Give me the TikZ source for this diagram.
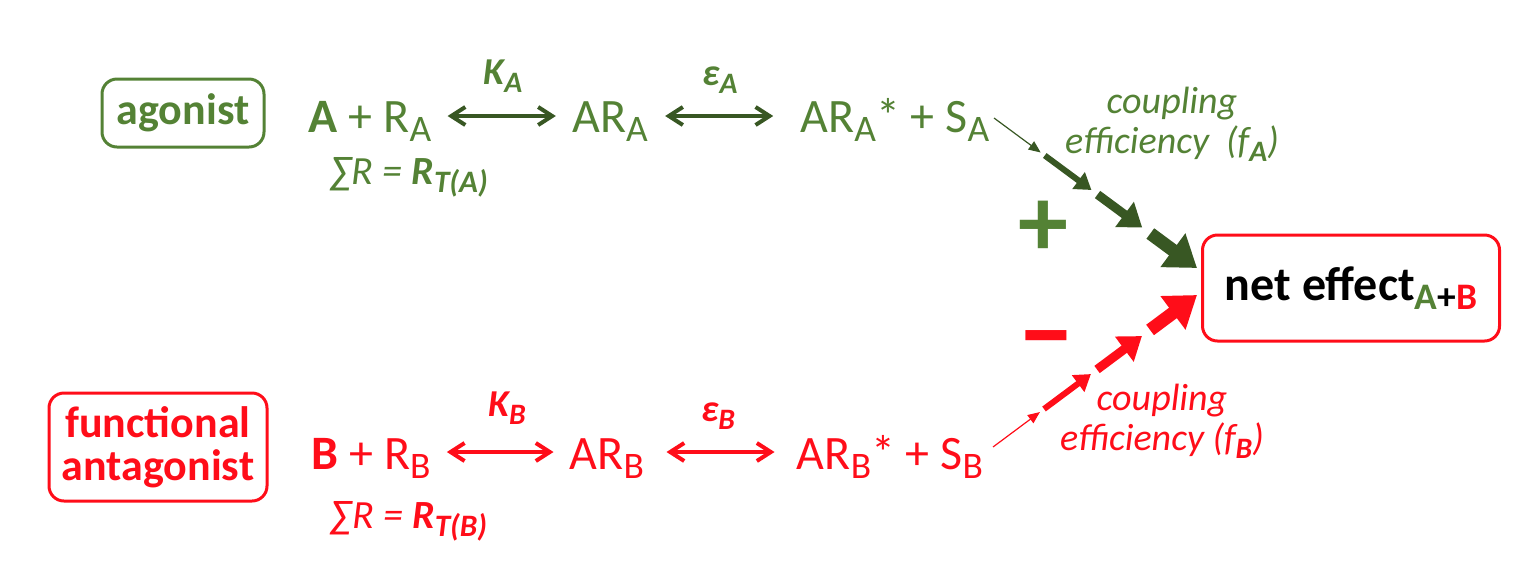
\documentclass[tikz,border=0pt]{standalone}
\usepackage{fontspec}
\setmainfont{Carlito}
\usetikzlibrary{arrows.meta,calc}

\definecolor{agreen}{RGB}{84,130,53}
\definecolor{adark}{RGB}{56,87,35}
\definecolor{bred}{RGB}{255,13,25}

\newcommand{\lowidx}[1]{\raisebox{-0.2em}{\scalebox{0.78}{#1}}}

\tikzset{
  tag/.style={draw, rounded corners=7.5pt, line width=1.5pt, align=center,
    font=\fontsize{22}{21.5}\selectfont\bfseries},
  chem/.style={inner sep=0pt, font=\fontsize{24}{26}\selectfont},
  rate/.style={inner sep=0pt, font=\fontsize{19}{21}\selectfont\bfseries\itshape},
  sumr/.style={inner sep=0pt, font=\fontsize{20}{22}\selectfont\itshape},
  cpl/.style={inner sep=0pt, align=center, font=\fontsize{19}{20}\selectfont\itshape},
  eq/.style={{Straight Barb[length=7pt,width=9pt]}-{Straight Barb[length=7pt,width=9pt]}, line width=2pt},
  seg1/.style={line width=0.6pt, -{Triangle[length=6pt,width=5pt]}},
  seg2/.style={line width=3pt, -{Triangle[length=8pt,width=10pt]}},
  seg3/.style={line width=4.5pt, -{Triangle[length=11pt,width=15pt]}},
  seg4/.style={line width=6.5pt, -{Triangle[length=15pt,width=20pt]}}
}

\begin{document}
\begin{tikzpicture}[x=0.5pt,y=-0.5pt]
        \useasboundingbox (0,0) rectangle (1524,580);

        % boxes
        \node[tag,draw=agreen,text=agreen,minimum width=81pt,minimum height=34pt] (ag) at (183,113) {agonist};
        \node[tag,draw=bred,text=bred,minimum width=109pt,minimum height=54pt] (fa) at (158,447) {functional\\antagonist};
        \node[tag,draw=bred,minimum width=148.5pt,minimum height=53pt,font=\fontsize{24}{26}\selectfont\bfseries] (net) at (1351,288)
          {net effect\lowidx{\textcolor{agreen}{A}+\textcolor{bred}{B}}};

        % agonist row
        \node[chem,text=agreen,anchor=base] (ra) at (370,132) {\textbf{A} + R\lowidx{A}};
        \node[chem,text=agreen,anchor=base] (ara) at (610,132) {AR\lowidx{A}};
        \node[chem,text=agreen,anchor=base] (sa) at (895,132) {AR\lowidx{A}* + S\lowidx{A}};
        \draw[eq,adark] ($(ra.base east)+(16,-16)$) -- ($(ara.base west)+(-16,-16)$);
        \draw[eq,adark] ($(ara.base east)+(17,-16)$) -- ($(sa.base west)+(-27,-16)$);
        \node[rate,text=agreen] (ka) at (503,76) {K\lowidx{A}};
        \node[rate,text=agreen] (ea) at (720,80) {ε\lowidx{A}};
        \node[sumr,text=agreen] (rta) at (409,177) {∑R = \textbf{R\lowidx{T(A)}}};

        % antagonist row
        \node[chem,text=bred,anchor=base] (rb) at (371,469) {\textbf{B} + R\lowidx{B}};
        \node[chem,text=bred,anchor=base] (arb) at (607,469) {AR\lowidx{B}};
        \node[chem,text=bred,anchor=base] (sb) at (890,469) {AR\lowidx{B}* + S\lowidx{B}};
        \draw[eq,bred] ($(rb.base east)+(16,-17)$) -- ($(arb.base west)+(-16,-17)$);
        \draw[eq,bred] ($(arb.base east)+(22,-17)$) -- ($(sb.base west)+(-22,-17)$);
        \node[rate,text=bred] (kb) at (507,408) {K\lowidx{B}};
        \node[rate,text=bred] (eb) at (718,416) {ε\lowidx{B}};
        \node[sumr,text=bred] (rtb) at (409,521) {∑R = \textbf{R\lowidx{T(B)}}};

        % coupling
        \node[cpl,text=agreen] (fA) at (1172,124) {coupling\\efficiency\ \ (f\lowidx{\textbf{A}})};
        \node[cpl,text=bred] (fB) at (1162,421) {coupling\\efficiency (f\lowidx{\textbf{B}})};
        \node[text=agreen,font=\fontsize{50}{50}\selectfont\bfseries] (plus) at (1043,229) {+};
        \node[text=bred,font=\fontsize{58}{58}\selectfont\bfseries] (minus) at (1046,350) {–};

        \coordinate (a0) at (994,118);
        \coordinate (a1) at (1197,268);
        \draw[adark,seg1] (a0) -- ($(a0)!0.23!(a1)$);
        \draw[adark,seg2] ($(a0)!0.25!(a1)$) -- ($(a0)!0.48!(a1)$);
        \draw[adark,seg3] ($(a0)!0.51!(a1)$) -- ($(a0)!0.73!(a1)$);
        \draw[adark,seg4] ($(a0)!0.77!(a1)$) -- (a1);

        \coordinate (b0) at (993,447);
        \coordinate (b1) at (1197,295);
        \draw[bred,seg1] (b0) -- ($(b0)!0.23!(b1)$);
        \draw[bred,seg2] ($(b0)!0.25!(b1)$) -- ($(b0)!0.48!(b1)$);
        \draw[bred,seg3] ($(b0)!0.51!(b1)$) -- ($(b0)!0.73!(b1)$);
        \draw[bred,seg4] ($(b0)!0.77!(b1)$) -- (b1);
\end{tikzpicture}
\end{document}
